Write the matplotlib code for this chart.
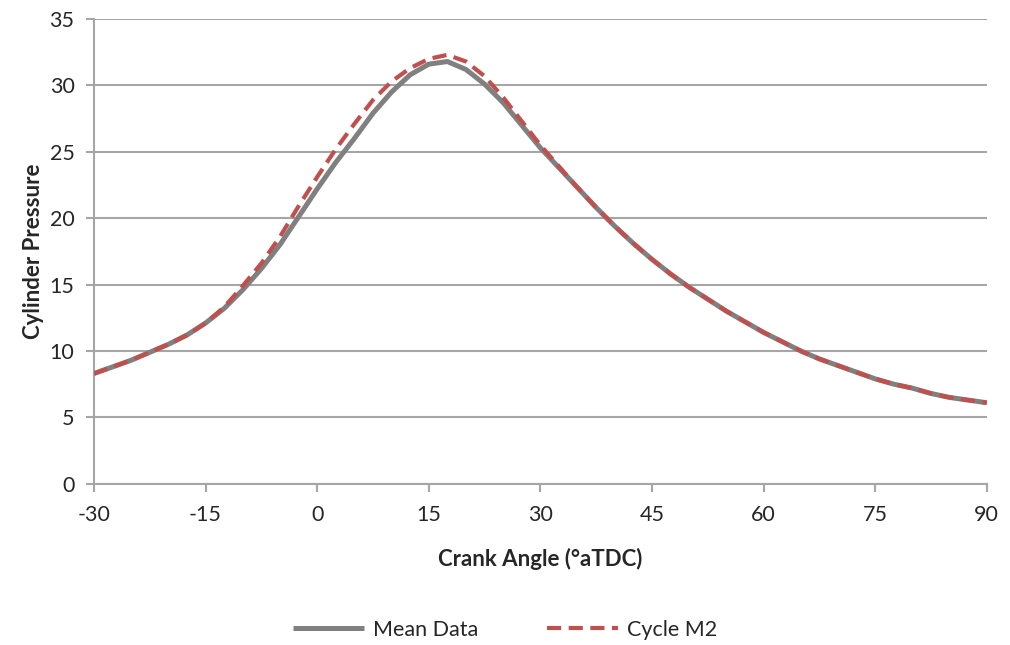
import matplotlib
matplotlib.use("Agg")
import matplotlib.pyplot as plt

plt.rcParams['font.family'] = ['Lato', 'DejaVu Sans']
plt.rcParams['axes.unicode_minus'] = False

# Crank angle (degrees after TDC)
crank_angle = [-30, -27.5, -25, -22.5, -20, -17.5, -15, -12.5, -10, -7.5, -5, -2.5,
               0, 2.5, 5, 7.5, 10, 12.5, 15, 17.5, 20, 22.5, 25, 27.5, 30, 32.5,
               35, 37.5, 40, 42.5, 45, 47.5, 50, 52.5, 55, 57.5, 60, 62.5, 65,
               67.5, 70, 72.5, 75, 77.5, 80, 82.5, 85, 87.5, 90]

mean_data = [8.3, 8.8, 9.3, 9.9, 10.5, 11.2, 12.1, 13.2, 14.6, 16.2, 18.0, 20.1,
             22.2, 24.2, 26.0, 27.9, 29.5, 30.8, 31.6, 31.8, 31.2, 30.1, 28.7, 27.0,
             25.3, 23.8, 22.3, 20.8, 19.4, 18.1, 16.9, 15.8, 14.8, 13.9, 13.0, 12.2,
             11.4, 10.7, 10.0, 9.4, 8.9, 8.4, 7.9, 7.5, 7.2, 6.8, 6.5, 6.3, 6.1]

cycle_m2 = [8.3, 8.8, 9.3, 9.9, 10.5, 11.2, 12.1, 13.3, 14.9, 16.6, 18.6, 20.9,
            23.1, 25.2, 27.1, 28.9, 30.3, 31.3, 32.0, 32.3, 31.8, 30.7, 29.1, 27.3,
            25.5, 23.9, 22.3, 20.8, 19.4, 18.1, 16.9, 15.8, 14.8, 13.9, 13.0, 12.2,
            11.4, 10.7, 10.0, 9.4, 8.9, 8.4, 7.9, 7.5, 7.2, 6.8, 6.5, 6.3, 6.1]

x_ticks = [-30, -15, 0, 15, 30, 45, 60, 75, 90]
y_ticks = [0, 5, 10, 15, 20, 25, 30, 35]

fig = plt.figure(figsize=(10.10, 6.45), dpi=100)
ax = fig.add_axes([0.093, 0.250, 0.884, 0.7205])

grid_col = '#a6a6a6'
text_col = '#262626'
fs = 15.5

ax.plot(crank_angle, mean_data, color='#808080', lw=3.6, label='Mean Data',
        solid_capstyle='butt', zorder=3)
ax.plot(crank_angle, cycle_m2, color='#c0504d', lw=3.0, label='Cycle M2',
        dashes=(3.4, 1.8), zorder=4)

ax.set_xlim(-30, 90)
ax.set_ylim(0, 35)
ax.set_xticks(x_ticks)
ax.set_yticks(y_ticks)
ax.yaxis.grid(True, color=grid_col, lw=1.5)
ax.set_axisbelow(True)

for side in ('top', 'right'):
    ax.spines[side].set_visible(False)
for side in ('left', 'bottom'):
    ax.spines[side].set_color(grid_col)
    ax.spines[side].set_linewidth(1.5)

ax.tick_params(axis='both', colors=grid_col, width=1.5, length=6,
               labelcolor=text_col, labelsize=fs)
ax.tick_params(axis='x', pad=9)
ax.tick_params(axis='y', pad=8)

ax.set_xlabel('Crank Angle (°aTDC)', fontsize=fs + 0.5, fontweight='bold',
              color=text_col, labelpad=17)
ax.set_ylabel('Cylinder Pressure', fontsize=fs + 0.5, fontweight='bold',
              color=text_col, labelpad=4)

fig.legend(loc='center', bbox_to_anchor=(0.5, 0.024), ncol=2, frameon=False,
           fontsize=fs, handlelength=3.3, handletextpad=0.4, columnspacing=3.2,
           labelcolor=text_col)

fig.savefig('out.png', dpi=100, facecolor='white')
